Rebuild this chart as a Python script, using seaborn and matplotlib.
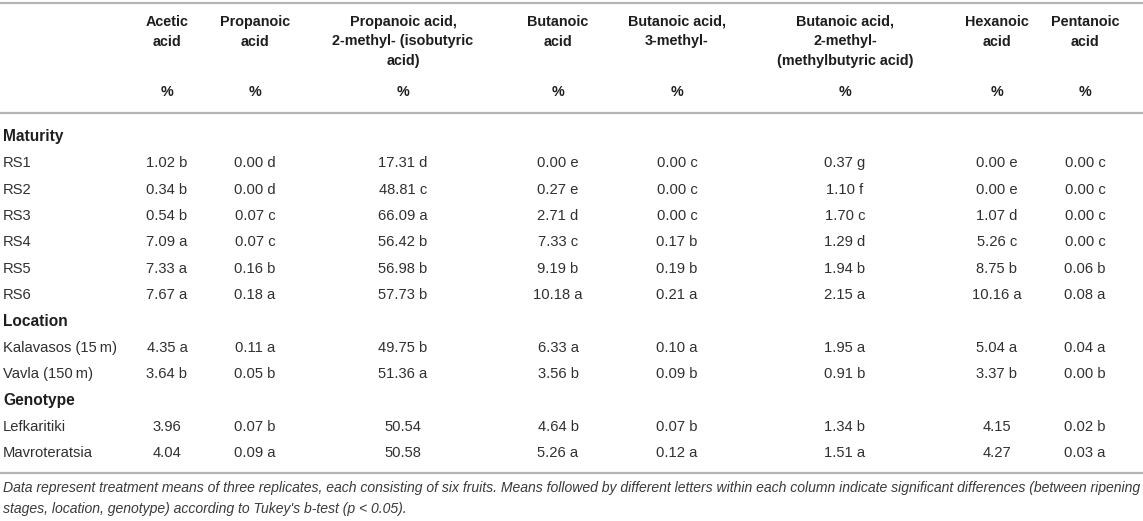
import matplotlib
matplotlib.use("Agg")
from matplotlib import pyplot as plt
import pandas as pd
import seaborn as sns

# table content
headers = ["Acetic\nacid", "Propanoic\nacid", "Propanoic acid,\n2-methyl- (isobutyric\nacid)",
           "Butanoic\nacid", "Butanoic acid,\n3-methyl-", "Butanoic acid,\n2-methyl-\n(methylbutyric acid)",
           "Hexanoic\nacid", "Pentanoic\nacid"]
units = ["%"] * 8

groups = ["Maturity", "Location", "Genotype"]
group_rows = [["RS1", "RS2", "RS3", "RS4", "RS5", "RS6"],
              ["Kalavasos (15\u2009m)", "Vavla (150\u2009m)"],
              ["Lefkaritiki", "Mavroteratsia"]]

acetic = [1.02, 0.34, 0.54, 7.09, 7.33, 7.67, 4.35, 3.64, 3.96, 4.04]
acetic_sig = ["b", "b", "b", "a", "a", "a", "a", "b", "", ""]
propanoic = [0.00, 0.00, 0.07, 0.07, 0.16, 0.18, 0.11, 0.05, 0.07, 0.09]
propanoic_sig = ["d", "d", "c", "c", "b", "a", "a", "b", "b", "a"]
isobutyric = [17.31, 48.81, 66.09, 56.42, 56.98, 57.73, 49.75, 51.36, 50.54, 50.58]
isobutyric_sig = ["d", "c", "a", "b", "b", "b", "b", "a", "", ""]
butanoic = [0.00, 0.27, 2.71, 7.33, 9.19, 10.18, 6.33, 3.56, 4.64, 5.26]
butanoic_sig = ["e", "e", "d", "c", "b", "a", "a", "b", "b", "a"]
methyl3 = [0.00, 0.00, 0.00, 0.17, 0.19, 0.21, 0.10, 0.09, 0.07, 0.12]
methyl3_sig = ["c", "c", "c", "b", "b", "a", "a", "b", "b", "a"]
methyl2 = [0.37, 1.10, 1.70, 1.29, 1.94, 2.15, 1.95, 0.91, 1.34, 1.51]
methyl2_sig = ["g", "f", "c", "d", "b", "a", "a", "b", "b", "a"]
hexanoic = [0.00, 0.00, 1.07, 5.26, 8.75, 10.16, 5.04, 3.37, 4.15, 4.27]
hexanoic_sig = ["e", "e", "d", "c", "b", "a", "a", "b", "", ""]
pentanoic = [0.00, 0.00, 0.00, 0.00, 0.06, 0.08, 0.04, 0.00, 0.02, 0.03]
pentanoic_sig = ["c", "c", "c", "c", "b", "a", "a", "b", "b", "a"]

footnote = ("Data represent treatment means of three replicates, each consisting of six fruits. "
            "Means followed by different letters within each column indicate significant differences (between ripening\n"
            "stages, location, genotype) according to Tukey's b-test (p < 0.05).")

columns = [(acetic, acetic_sig), (propanoic, propanoic_sig), (isobutyric, isobutyric_sig),
           (butanoic, butanoic_sig), (methyl3, methyl3_sig), (methyl2, methyl2_sig),
           (hexanoic, hexanoic_sig), (pentanoic, pentanoic_sig)]

table = pd.DataFrame({
    h: [f"{v:.2f} {s}".strip() for v, s in zip(vals, sig)]
    for h, (vals, sig) in zip(headers, columns)
})

# layout (pixels)
col_x = [167, 255, 403, 558, 677, 845, 997, 1085]
first_row_y = 137
row_step = 26.35
text_col = "#303030"
head_col = "#1e1e1e"
rule_col = "#b5b5b5"

sns.set_theme(style="white")
plt.rcParams['font.family'] = ['Liberation Sans', 'DejaVu Sans']

fig = plt.figure(figsize=(11.43, 5.21), dpi=100)
ax = fig.add_axes([0, 0, 1, 1])
ax.set_xlim(0, 1143)
ax.set_ylim(521, 0)
ax.axis("off")

# rules
for y in [3, 113, 473]:
    ax.axhline(y, color=rule_col, lw=1.6)

# header
for x, h, u in zip(col_x, headers, units):
    ax.text(x, 15, h, ha="center", va="top", fontsize=10.4, fontweight="bold",
            color=head_col, linespacing=1.5)
    ax.text(x, 92, u, ha="center", va="center", fontsize=10.4, fontweight="bold", color=head_col)

# body
y = first_row_y
i = 0
for g, rows in zip(groups, group_rows):
    ax.text(3, y, g, ha="left", va="center", fontsize=11.2, fontweight="bold", color=head_col)
    y += row_step
    for r in rows:
        ax.text(3, y, r, ha="left", va="center", fontsize=10.6, color=text_col)
        for x, h in zip(col_x, headers):
            ax.text(x, y, table[h].iloc[i], ha="center", va="center", fontsize=10.6, color=text_col)
        y += row_step
        i += 1

ax.text(3, 481, footnote, ha="left", va="top", fontsize=10.05, style="italic",
        color="#3a3a3a", linespacing=1.6)

fig.savefig("out.png", dpi=100)
